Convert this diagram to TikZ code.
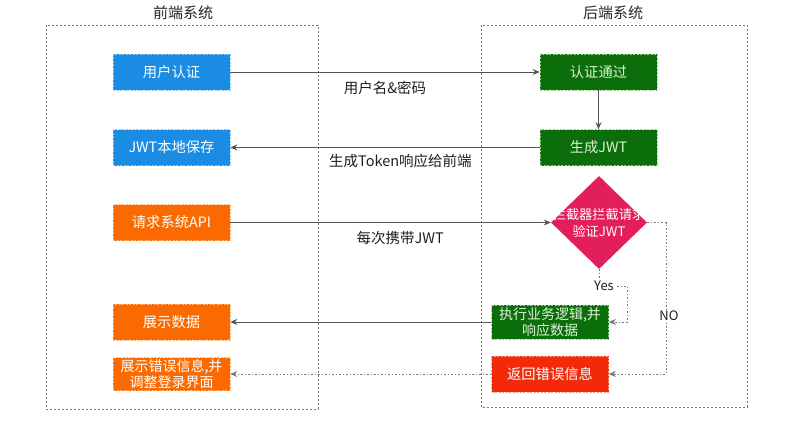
\documentclass[tikz,border=0pt]{standalone}
\usepackage{fontspec}
\setmainfont{Noto Sans CJK SC}
\usetikzlibrary{shapes.geometric,arrows.meta}
\definecolor{cblue}{HTML}{1B8CE3}
\definecolor{cblueb}{HTML}{8CC8F2}
\definecolor{cgreen}{HTML}{0B6E0B}
\definecolor{cgreenb}{HTML}{8FD08A}
\definecolor{cgreent}{HTML}{DDF2D6}
\definecolor{corange}{HTML}{FA6A00}
\definecolor{coranb}{HTML}{FFB577}
\definecolor{cred}{HTML}{F22A0A}
\definecolor{credb}{HTML}{F79A88}
\definecolor{cpink}{HTML}{E21E5C}
\definecolor{cline}{HTML}{555555}
\definecolor{cframe}{HTML}{777777}
\tikzset{
  boxnode/.style={minimum width=117pt,minimum height=36pt,inner sep=0pt,align=center,
    text=white,dash pattern=on 2pt off 1.5pt,line width=0.6pt,
    font=\fontsize{14.3}{17.5}\selectfont},
  bluebox/.style={boxnode,fill=cblue,draw=cblueb},
  greenbox/.style={boxnode,fill=cgreen,draw=cgreenb,text=cgreent},
  orangebox/.style={boxnode,fill=corange,draw=coranb},
  redbox/.style={boxnode,fill=cred,draw=credb},
  frame/.style={draw=cframe,line width=0.8pt,dash pattern=on 2pt off 2pt},
  titlelbl/.style={font=\fontsize{15}{18}\selectfont,text=black!85},
  lbl/.style={font=\fontsize{14.5}{17}\selectfont,text=black!88,inner sep=0pt},
  solidarrow/.style={draw=cline,line width=0.8pt,-{Stealth[length=7pt,width=6pt]}},
  dotarrow/.style={draw=cframe,line width=0.9pt,dash pattern=on 1.5pt off 2pt,-{Stealth[length=7pt,width=6pt]}},
}
\begin{document}
\begin{tikzpicture}[x=1pt,y=-1pt]
\useasboundingbox (0,0) rectangle (810,428);
% frames
\draw[frame] (46,25) rectangle (318,409);
\draw[frame] (481,25) rectangle (747,407);
\node[titlelbl] (t1) at (183,13) {前端系统};
\node[titlelbl] (t2) at (613,13) {后端系统};
% left column
\node[bluebox] (u) at (171.5,72) {用户认证};
\node[bluebox] (s) at (171.5,147.5) {JWT本地保存};
\node[orangebox] (r) at (171.5,222.5) {请求系统API};
\node[orangebox] (sd) at (171.5,322) {展示数据};
\node[orangebox,minimum height=33pt,font=\fontsize{14}{16.5}\selectfont] (se) at (171.5,374) {展示错误信息,并\\调整登录界面};
% right column
\node[greenbox] (a) at (598.5,72) {认证通过};
\node[greenbox] (g) at (598.5,147.5) {生成JWT};
\node[diamond,fill=cpink,minimum width=96pt,minimum height=93pt,inner sep=0pt] (d) at (599,222.5) {};
\node[align=center,text=white,font=\fontsize{13.2}{17}\selectfont,inner sep=0pt] (dt) at (d.center) {拦截器拦截请求\\验证JWT};
\node[greenbox,minimum height=34pt,font=\fontsize{14}{16.5}\selectfont] (e) at (550,322) {执行业务逻辑,并\\响应数据};
\node[redbox] (f) at (550,374) {返回错误信息};
% connectors
\draw[solidarrow] (u.east) -- (a.west) node[lbl,pos=0.5,below=9pt] (l1) {用户名\&密码};
\draw[solidarrow] (a.south) -- (g.north);
\draw[solidarrow] (g.west) -- (s.east) node[lbl,pos=0.45,below=6pt] (l2) {生成Token响应给前端};
\draw[solidarrow] (r.east) -- (d.west) node[lbl,pos=0.53,below=8pt] (l3) {每次携带JWT};
\coordinate (y1) at (627,286);
\draw[dotarrow] (d.south) |- (y1) -- (y1 |- e.east) -- (e.east);
\node[lbl,fill=white,inner sep=1pt,font=\fontsize{13}{15}\selectfont] (yes) at (604,286) {Yes};
\coordinate (n1) at (666,222.5);
\draw[dotarrow] (d.east) -- (n1) |- (f.east);
\node[lbl,fill=white,inner sep=1pt,font=\fontsize{13}{15}\selectfont] (no) at (669,316) {NO};
\draw[solidarrow] (e.west) -- (sd.east);
\draw[dotarrow] (f.west) -- (se.east);
\end{tikzpicture}
\end{document}
